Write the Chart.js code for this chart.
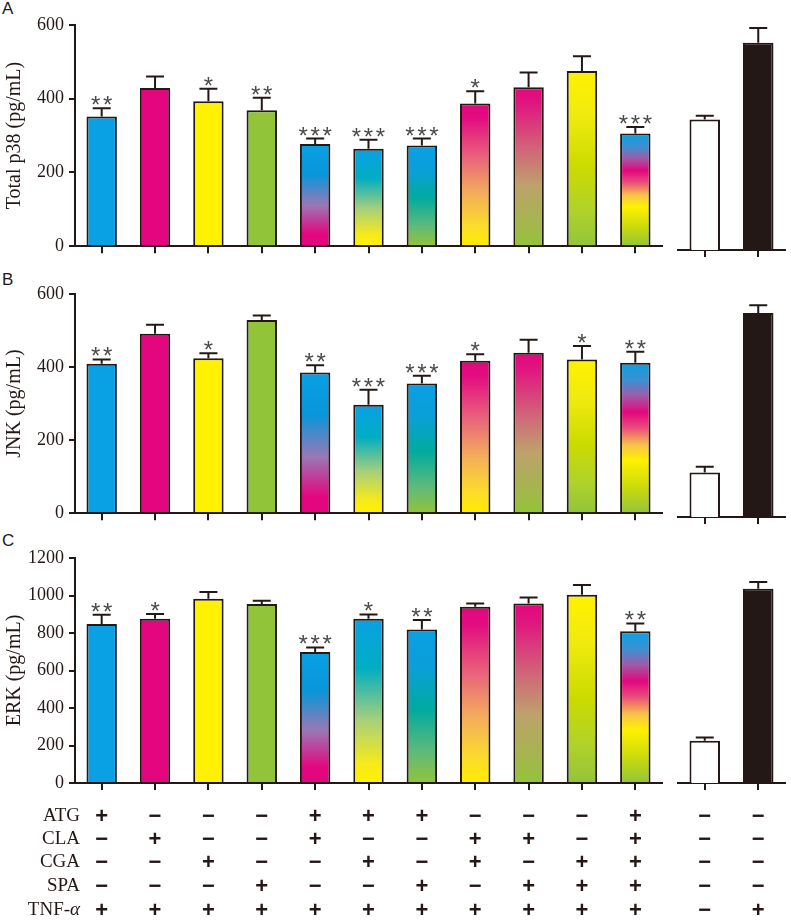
<!doctype html>
<html lang="en">
<head>
<meta charset="utf-8">
<title>Total p38 / JNK / ERK</title>
<script src="https://cdn.jsdelivr.net/npm/chart.js@4.4.1/dist/chart.umd.min.js"></script>
<style>
  body { margin: 0; background: #fff; width: 791px; height: 920px; position: relative; overflow: hidden; }
  canvas { position: absolute; }
  .tag { position: absolute; left: 2px; font: 17px "Liberation Sans", Arial, sans-serif; color: #231815; line-height: 17px; }
</style>
</head>
<body>
<div class="tag" style="top:0px">A</div>
<div class="tag" style="top:271px">B</div>
<div class="tag" style="top:532px">C</div>

<canvas id="mainA" width="668" height="262" style="left:0;top:0"></canvas>
<canvas id="sideA" width="123" height="262" style="left:668px;top:0"></canvas>
<canvas id="mainB" width="668" height="267" style="left:0;top:262px"></canvas>
<canvas id="sideB" width="123" height="267" style="left:668px;top:262px"></canvas>
<canvas id="mainC" width="668" height="391" style="left:0;top:529px"></canvas>
<canvas id="sideC" width="123" height="391" style="left:668px;top:529px"></canvas>

<script>
// groups (11 treatments + control, TNF-a only)
const groups = ['ATG', 'CLA', 'CGA', 'SPA', 'ATG+CLA', 'ATG+CGA', 'ATG+SPA', 'CLA+CGA', 'CLA+SPA', 'CGA+SPA', 'ALL', 'Control', 'TNF-α'];

// Total p38
const p38 = [352, 429, 393, 369, 277, 264, 273, 387, 431, 475, 306, 348, 553];
const p38Err = [22, 31, 34, 34, 15, 25, 19, 33, 40, 40, 17, 10, 39];
const p38Stars = ['**', '', '*', '**', '***', '***', '***', '*', '', '', '***', '', ''];

// JNK
const jnk = [409, 491, 424, 529, 385, 297, 355, 417, 439, 421, 412, 120, 549];
const jnkErr = [12, 25, 14, 12, 20, 41, 21, 18, 36, 37, 30, 15, 21];
const jnkStars = ['**', '', '*', '', '**', '***', '***', '*', '', '*', '**', '', ''];

// ERK
const erk = [848, 876, 983, 955, 699, 876, 819, 940, 958, 1004, 809, 226, 1036];
const erkErr = [50, 25, 36, 17, 24, 23, 50, 18, 32, 52, 42, 17, 36];
const erkStars = ['**', '*', '', '', '***', '*', '**', '', '', '', '**', '', ''];

// treatment table
const rowNames = ['ATG', 'CLA', 'CGA', 'SPA', 'TNF-'];
const rowATG = ['+', '−', '−', '−', '+', '+', '+', '−', '−', '−', '+', '−', '−'];
const rowCLA = ['−', '+', '−', '−', '+', '−', '−', '+', '+', '−', '+', '−', '−'];
const rowCGA = ['−', '−', '+', '−', '−', '+', '−', '+', '−', '+', '+', '−', '−'];
const rowSPA = ['−', '−', '−', '+', '−', '−', '+', '−', '+', '+', '+', '−', '−'];
const rowTNF = ['+', '+', '+', '+', '+', '+', '+', '+', '+', '+', '+', '−', '+'];

const ink = '#231815';
const blue = '#0aa0e4', pink = '#e4067e', yellow = '#fff100', green = '#92c43a';

// bar fills, gradient stops go top -> bottom
const fills = [
  blue, pink, yellow, green,
  [[0, blue], [0.3, '#0896d8'], [0.6, '#9a78b5'], [0.88, pink], [1, pink]],
  [[0, blue], [0.3, '#00adc2'], [0.62, '#a8d07a'], [0.88, '#f6ea1a'], [1, yellow]],
  [[0, blue], [0.25, '#0a9fd8'], [0.52, '#00ab9e'], [0.8, '#5fba7a'], [1, green]],
  [[0, pink], [0.1, '#e20c80'], [0.38, '#e9647a'], [0.62, '#f4ab5c'], [0.86, '#fcdc2a'], [1, '#ffec00']],
  [[0, pink], [0.1, '#e0157f'], [0.4, '#d06878'], [0.62, '#bda26c'], [0.86, '#a4b64c'], [1, green]],
  [[0, yellow], [0.25, '#f1ea0e'], [0.55, '#cbdb00'], [0.8, '#b0d22a'], [1, green]],
  [[0, blue], [0.12, '#3d8fd0'], [0.22, '#a05aa8'], [0.33, pink], [0.43, '#ea4a7c'], [0.55, '#f8c448'], [0.65, yellow], [0.82, '#cddc0a'], [1, green]],
  '#ffffff', ink
];

Chart.defaults.font.family = '"Liberation Serif", "Times New Roman", serif';
Chart.defaults.color = ink;

function barFill(values, fillList) {
  return function (ctx) {
    const f = fillList[ctx.dataIndex];
    if (typeof f === 'string') return f;
    const chart = ctx.chart, ys = chart.scales.y;
    if (!chart.chartArea || !ys) return f[0][1];
    const top = ys.getPixelForValue(values[ctx.dataIndex]);
    const bot = ys.getPixelForValue(0);
    const g = chart.ctx.createLinearGradient(0, top, 0, bot);
    f.forEach(s => g.addColorStop(s[0], s[1]));
    return g;
  };
}

// error bars (upper only) and significance stars
function errPlugin(values, errors, stars) {
  return {
    id: 'errStars',
    afterDatasetsDraw(chart) {
      const c = chart.ctx, ys = chart.scales.y, meta = chart.getDatasetMeta(0);
      c.save();
      c.strokeStyle = ink;
      c.lineWidth = 2;
      values.forEach((v, i) => {
        const x = meta.data[i].x;
        const y0 = ys.getPixelForValue(v), y1 = ys.getPixelForValue(v + errors[i]);
        c.beginPath();
        c.moveTo(x, y0); c.lineTo(x, y1);
        c.moveTo(x - 9, y1); c.lineTo(x + 9, y1);
        c.stroke();
        const s = stars[i];
        c.fillStyle = '#4a4a4a';
        c.font = '24px "Liberation Sans", Arial, sans-serif';
        c.textAlign = 'center';
        c.textBaseline = 'alphabetic';
        for (let k = 0; k < s.length; k++) {
          c.fillText('*', x + (k - (s.length - 1) / 2) * 12, y1 + 5);
        }
      });
      c.restore();
    }
  };
}

// +/- table under panel C
function tablePlugin(rows, withNames) {
  const offs = [33, 56, 79, 103, 127];
  return {
    id: 'table',
    afterDraw(chart) {
      const c = chart.ctx, xs = chart.scales.x, base = chart.chartArea.bottom;
      c.save();
      c.fillStyle = ink;
      c.textBaseline = 'middle';
      rows.forEach((row, r) => {
        const y = base + offs[r];
        if (withNames) {
          c.textAlign = 'right';
          c.font = '19px "Liberation Serif", serif';
          if (r === 4) {
            c.font = 'italic 19px "Liberation Serif", serif';
            const aw = c.measureText('α').width;
            c.fillText('α', 80, y);
            c.font = '19px "Liberation Serif", serif';
            c.fillText(rowNames[r], 80 - aw, y);
          } else {
            c.fillText(rowNames[r], 80, y);
          }
        }
        c.textAlign = 'center';
        c.font = 'bold 22px "Liberation Sans", Arial, sans-serif';
        row.forEach((s, i) => c.fillText(s, xs.getPixelForValue(i), y + 1));
      });
      c.restore();
    }
  };
}

function makeChart(id, labels, values, errors, stars, fillList, opt) {
  const yScale = {
    min: 0, max: opt.max,
    display: !opt.side,
    ticks: { stepSize: 200, padding: 5, color: ink, font: { size: 18 }, callback: v => String(v) },
    grid: { drawOnChartArea: false, drawTicks: true, tickLength: 6, color: ink, lineWidth: 2 },
    border: { color: ink, width: 2 },
    title: { display: true, text: opt.title, color: ink, font: { size: 20 }, padding: { top: 3, bottom: 0 } }
  };
  if (!opt.side) yScale.afterFit = s => { s.width = 75; };
  const plugins = [errPlugin(values, errors, stars)];
  if (opt.rows) plugins.push(tablePlugin(opt.rows, !opt.side));
  return new Chart(document.getElementById(id), {
    type: 'bar',
    data: {
      labels: labels,
      datasets: [{
        data: values,
        backgroundColor: barFill(values, fillList),
        borderColor: ink,
        borderWidth: 2,
        categoryPercentage: 1,
        barPercentage: 0.57
      }]
    },
    options: {
      responsive: false,
      animation: false,
      events: [],
      devicePixelRatio: 1,
      layout: { padding: { top: opt.top, bottom: opt.bottom || 0, left: opt.side ? 10 : 0, right: 6 } },
      plugins: { legend: { display: false }, tooltip: { enabled: false } },
      scales: {
        x: {
          ticks: { display: false },
          grid: { offset: false, drawOnChartArea: false, drawTicks: true, tickLength: 7, color: ink, lineWidth: 2 },
          border: { color: ink, width: 2 },
          afterFit: s => { s.height = 12; }
        },
        y: yScale
      }
    },
    plugins: plugins
  });
}

function panel(key, values, errors, stars, opt) {
  const n = 11;
  makeChart('main' + key, groups.slice(0, n), values.slice(0, n), errors.slice(0, n), stars.slice(0, n), fills.slice(0, n),
    Object.assign({}, opt, { rows: opt.rows && opt.rows.map(r => r.slice(0, n)) }));
  makeChart('side' + key, groups.slice(n), values.slice(n), errors.slice(n), stars.slice(n), fills.slice(n),
    Object.assign({}, opt, { side: true, rows: opt.rows && opt.rows.map(r => r.slice(n)) }));
}

panel('A', p38, p38Err, p38Stars, { max: 600, title: 'Total p38 (pg/mL)', top: 25 });
panel('B', jnk, jnkErr, jnkStars, { max: 600, title: 'JNK (pg/mL)', top: 32 });
panel('C', erk, erkErr, erkStars, { max: 1200, title: 'ERK (pg/mL)', top: 29, bottom: 125,
  rows: [rowATG, rowCLA, rowCGA, rowSPA, rowTNF] });
</script>
</body>
</html>
